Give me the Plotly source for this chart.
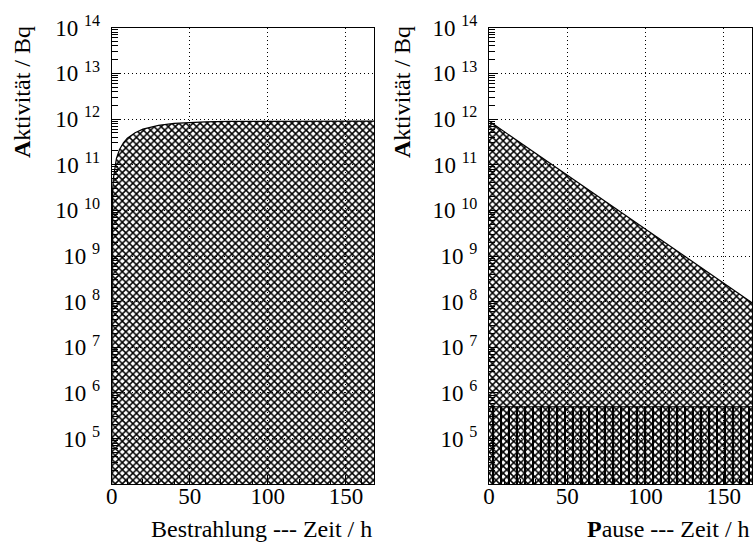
import plotly.graph_objects as go

# Irradiation (Bestrahlung): activity build-up
t_irr = [0, 0.02, 0.1, 0.3, 0.5, 1, 2, 3, 5, 7.5, 10, 15, 20, 25, 30, 40, 50, 60, 75, 100, 130, 168]
a_irr = [1e3, 1e9, 4.9e9, 1.45e10, 2.4e10, 4.8e10, 9.3e10, 1.36e11, 2.15e11, 3.0e11, 3.8e11,
         5.0e11, 6.0e11, 6.7e11, 7.25e11, 8.0e11, 8.4e11, 8.65e11, 8.85e11, 8.95e11, 9.0e11, 9.0e11]

# Pause: exponential decay
t_pause = [0, 25, 50, 75, 100, 125, 150, 168]
a_pause = [9.0e11, 2.3e11, 5.9e10, 1.5e10, 3.8e9, 9.8e8, 2.5e8, 9.5e7]

# Background level (Pause panel)
t_bg = [0, 168]
a_bg = [5.0e5, 5.0e5]

BASE = 1e3  # below the axis bottom: fill reaches the frame

y_tickvals = [1e5, 1e6, 1e7, 1e8, 1e9, 1e10, 1e11, 1e12, 1e13, 1e14]
y_ticktext = ["10 <sup>%d</sup>" % e for e in range(5, 15)]
x_tickvals = [0, 50, 100, 150]
x_ticktext = ["0", "50", "100", "150"]

FONT = "Liberation Serif, Times New Roman, serif"

fig = go.Figure()

def add_area(xs, ys, xaxis, yaxis, shape, size, solidity):
    fig.add_trace(go.Scatter(x=[xs[0], xs[-1]], y=[BASE, BASE], mode="lines",
                             line=dict(width=0, color="rgba(0,0,0,0)"),
                             xaxis=xaxis, yaxis=yaxis, showlegend=False, hoverinfo="skip"))
    fig.add_trace(go.Scatter(x=xs, y=ys, mode="lines", fill="tonexty",
                             fillcolor="rgba(0,0,0,0)",
                             fillpattern=dict(shape=shape, size=size, solidity=solidity,
                                              fgcolor="black", fgopacity=1),
                             line=dict(color="black", width=1.2),
                             xaxis=xaxis, yaxis=yaxis, showlegend=False))

add_area(t_irr, a_irr, "x", "y", "x", 5, 0.5)
add_area(t_pause, a_pause, "x2", "y2", "x", 5, 0.5)
add_area(t_bg, a_bg, "x2", "y2", "|", 8, 0.25)

xdom1 = [111.7 / 753, 374 / 753]
xdom2 = [489 / 753, 752 / 753]
ydom = [1 - 484.3 / 542, 1 - 27.7 / 542]

def xax(dom, anchor):
    return dict(domain=dom, anchor=anchor, range=[0, 168], tickmode="array",
                tickvals=x_tickvals, ticktext=x_ticktext, ticks="inside", ticklen=9,
                tickcolor="black", tickwidth=1, automargin=False,
                minor=dict(dtick=10, tick0=0, ticks="inside", ticklen=5, tickcolor="black",
                           showgrid=False),
                showline=True, linecolor="black", linewidth=1.2, mirror=True,
                showgrid=True, gridcolor="black", gridwidth=1, griddash="1px,3px",
                zeroline=False, ticklabelstandoff=-9,
                tickfont=dict(family=FONT, size=23, color="black"))

def yax(dom, anchor):
    return dict(domain=dom, anchor=anchor, type="log", range=[4, 14], tickmode="array",
                tickvals=y_tickvals, ticktext=y_ticktext, ticks="inside", ticklen=9,
                tickcolor="black", tickwidth=1, automargin=False,
                minor=dict(dtick="D1", ticks="inside", ticklen=6, tickcolor="black",
                           showgrid=False),
                showline=True, linecolor="black", linewidth=1.2, mirror=True,
                showgrid=True, gridcolor="black", gridwidth=1, griddash="1px,3px",
                zeroline=False, ticklabelstandoff=6,
                tickfont=dict(family=FONT, size=23, color="black"))

fig.update_layout(
    width=753, height=542,
    margin=dict(l=0, r=0, t=0, b=0, autoexpand=False),
    paper_bgcolor="white", plot_bgcolor="white",
    xaxis=xax(xdom1, "y"), yaxis=yax(ydom, "x"),
    xaxis2=xax(xdom2, "y2"), yaxis2=yax(ydom, "x2"),
    font=dict(family=FONT, color="black", size=23),
    showlegend=False,
)

annots = [
    dict(text="Bestrahlung --- Zeit / h", x=374 / 753, y=1 - 529 / 542, xanchor="right", yanchor="middle"),
    dict(text="<b>P</b>ause --- Zeit / h", x=752 / 753, y=1 - 529 / 542, xanchor="right", yanchor="middle"),
    dict(text="<b>A</b>ktivität / Bq", x=22 / 753, y=1 - 92 / 542, xanchor="center", yanchor="middle", textangle=-90),
    dict(text="<b>A</b>ktivität / Bq", x=402 / 753, y=1 - 92 / 542, xanchor="center", yanchor="middle", textangle=-90),
]
for a in annots:
    fig.add_annotation(xref="paper", yref="paper", showarrow=False,
                       font=dict(family=FONT, size=24, color="black"), **a)

fig.write_html("out.html")
